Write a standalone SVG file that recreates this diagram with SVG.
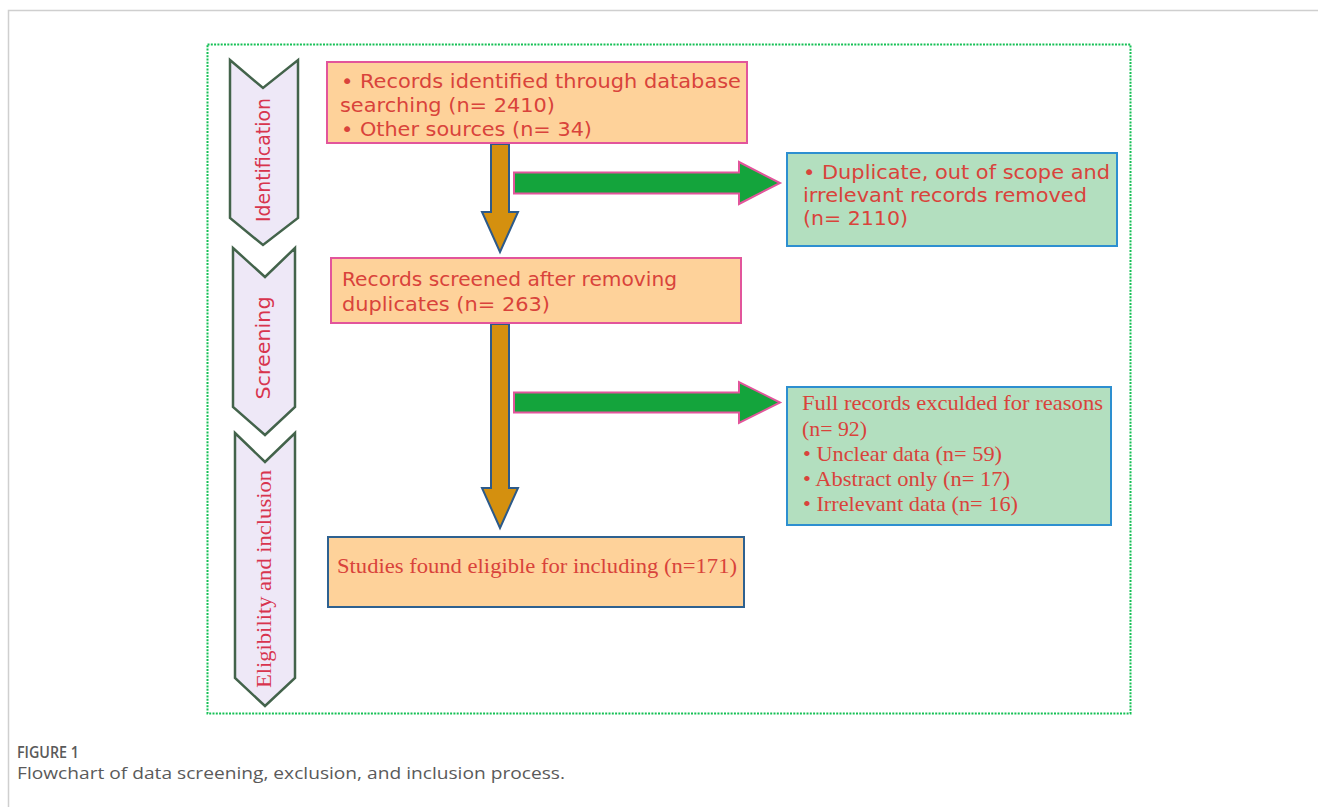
<svg xmlns="http://www.w3.org/2000/svg" width="1318" height="807" viewBox="0 0 1318 807">
<style>
.sans{font-family:"DejaVu Sans","Verdana",sans-serif;font-size:19px;fill:#d9433b}
.serif{font-family:"Liberation Serif","Times New Roman",serif;font-size:21px;fill:#d9433b}
.lab{fill:#d8344e}
.chev{fill:#eee8f7;stroke:#43634b;stroke-width:2.5;stroke-linejoin:miter}
.peach{fill:#fed29a}
.pink{stroke:#e2559b;stroke-width:2}
.blue{stroke:#2e6190;stroke-width:2}
.mint{fill:#b3dfbf;stroke:#2d8fd0;stroke-width:2}
.down{fill:#d4900f;stroke:#2c5a8a;stroke-width:2}
.right{fill:#14a43c;stroke:#e2559b;stroke-width:2}
.cap{font-family:"Open Sans","Noto Sans",sans-serif;fill:#5a5a5a}
</style>
<rect width="1318" height="807" fill="#ffffff"/>
<path d="M8.5,807 V10.5 H1318" fill="none" stroke="#cfcfcf" stroke-width="1.5"/>
<rect x="207.5" y="44.5" width="923" height="669" fill="none" stroke="#14c055" stroke-width="2" stroke-dasharray="2 1.3"/>

<g id="phase-identification">
<polygon class="chev" points="230,60 263,88 298,60 298,218 263,245 230,218"/>
<text class="sans lab" font-size="20" transform="translate(270,160) rotate(-90)" text-anchor="middle" textLength="124" lengthAdjust="spacingAndGlyphs">Identification</text>
</g>
<g id="phase-screening">
<polygon class="chev" points="233,248 265,277 295,248 295,407 265,435 233,407"/>
<text class="sans lab" font-size="20" transform="translate(270,348) rotate(-90)" text-anchor="middle" textLength="103" lengthAdjust="spacingAndGlyphs">Screening</text>
</g>
<g id="phase-eligibility">
<polygon class="chev" points="235,433 265,462 295,433 295,678 265,706 235,678"/>
<text class="serif lab" font-size="22" transform="translate(271,579) rotate(-90)" text-anchor="middle" textLength="218" lengthAdjust="spacingAndGlyphs">Eligibility and inclusion</text>
</g>

<g id="connectors">
<polygon class="down" points="491,144 509,144 509,212 518,212 500,252 482,212 491,212"/>
<polygon class="down" points="491,324 509,324 509,488 518,488 500,528 482,488 491,488"/>
<polygon class="right" points="514,172.5 739,172.5 739,162 780,183 739,204 739,193.5 514,193.5"/>
<polygon class="right" points="514,392.5 739,392.5 739,382 780,402.5 739,423 739,412.5 514,412.5"/>
</g>

<g id="identified">
<rect class="peach pink" x="327" y="62" width="420" height="81"/>
<text class="sans" x="341" y="88" textLength="400" lengthAdjust="spacingAndGlyphs">• Records identified through database</text>
<text class="sans" x="340" y="112" textLength="215" lengthAdjust="spacingAndGlyphs">searching (n= 2410)</text>
<text class="sans" x="341" y="136" textLength="251" lengthAdjust="spacingAndGlyphs">• Other sources (n= 34)</text>
</g>

<g id="removed">
<rect class="mint" x="787" y="153" width="330" height="93"/>
<text class="sans" x="803" y="179" textLength="307" lengthAdjust="spacingAndGlyphs">• Duplicate, out of scope and</text>
<text class="sans" x="803" y="202" textLength="284" lengthAdjust="spacingAndGlyphs">irrelevant records removed</text>
<text class="sans" x="803" y="225" textLength="105" lengthAdjust="spacingAndGlyphs">(n= 2110)</text>
</g>

<g id="screened">
<rect class="peach pink" x="331" y="258" width="410" height="65"/>
<text class="sans" x="342" y="286" textLength="335" lengthAdjust="spacingAndGlyphs">Records screened after removing</text>
<text class="sans" x="342" y="311" textLength="208" lengthAdjust="spacingAndGlyphs">duplicates (n= 263)</text>
</g>

<g id="excluded">
<rect class="mint" x="787" y="387" width="324" height="138"/>
<text class="serif" x="802" y="410" textLength="301" lengthAdjust="spacingAndGlyphs">Full records exculded for reasons</text>
<text class="serif" x="802" y="436" textLength="65" lengthAdjust="spacingAndGlyphs">(n= 92)</text>
<text class="serif" x="803" y="461" textLength="199" lengthAdjust="spacingAndGlyphs">• Unclear data (n= 59)</text>
<text class="serif" x="803" y="486" textLength="207" lengthAdjust="spacingAndGlyphs">• Abstract only (n= 17)</text>
<text class="serif" x="803" y="511" textLength="215" lengthAdjust="spacingAndGlyphs">• Irrelevant data (n= 16)</text>
</g>

<g id="included">
<rect class="peach blue" x="328" y="537" width="416" height="70"/>
<text class="serif" x="337" y="573" textLength="400" lengthAdjust="spacingAndGlyphs">Studies found eligible for including (n=171)</text>
</g>

<g id="caption">
<text class="cap" x="17" y="758" font-size="16" font-weight="600" textLength="62" lengthAdjust="spacingAndGlyphs">FIGURE 1</text>
<text class="cap" x="17" y="779" font-size="15.5" fill="#666" textLength="548" lengthAdjust="spacingAndGlyphs">Flowchart of data screening, exclusion, and inclusion process.</text>
</g>
</svg>
